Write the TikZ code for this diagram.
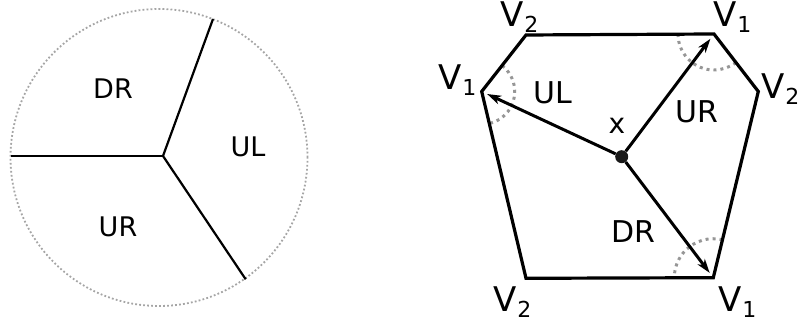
\documentclass[tikz,border=0pt]{standalone}
\usepackage{fontspec}
\setmainfont{DejaVu Sans}
\usetikzlibrary{arrows.meta}

\definecolor{dotgray}{RGB}{150,150,150}
\definecolor{ringgray}{RGB}{165,165,165}
\newcommand{\vsub}[1]{V\kern1pt{\fontsize{22}{22}\selectfont\raisebox{-6pt}{#1}}}

\begin{document}
\begin{tikzpicture}[x=1pt, y=1pt,
	wall/.style={line width=3.2pt, line join=miter},
	cut/.style={line width=2.2pt},
	ring/.style={ringgray, line width=1.8pt, dash pattern=on 1.8pt off 2.2pt},
	arcdot/.style={dotgray, line width=3pt, dash pattern=on 3pt off 4pt},
	ray/.style={line width=3pt, -{Stealth[length=14pt,width=9pt,inset=4pt]}, shorten >=6pt},
	region/.style={font=\fontsize{27}{30}\selectfont, inner sep=0pt},
	bigregion/.style={font=\fontsize{30}{33}\selectfont, inner sep=0pt},
	vlabel/.style={font=\fontsize{34}{38}\selectfont, inner sep=0pt, anchor=base west}]
	\useasboundingbox (0,0) rectangle (798,323);
	% Left: disc cut into three regions
	\draw[ring] (159,165.5) circle[radius=148.5];
	\coordinate (J) at (163,167);
	\coordinate (Ew) at (10.7,167);
	\coordinate (Ene) at (213,304);
	\coordinate (Ese) at (245.7,43.7);
	\draw[cut] (J) -- (Ew);
	\draw[cut] (J) -- (Ene);
	\draw[cut] (J) -- (Ese);
	\node[region] (lDR) at (113,234){DR};
	\node[region] (lUL) at (248,176){UL};
	\node[region] (lUR) at (118,96){UR};
	% Right: hexagon, corners and rays from x
	\coordinate (P2tl) at (526,288);
	\coordinate (P1tr) at (714,289);
	\coordinate (P2r) at (758.3,231.5);
	\coordinate (P1br) at (713.3,45.3);
	\coordinate (P2bl) at (526,44.7);
	\coordinate (P1l) at (481.7,231.5);
	\draw[arcdot] ([shift={(51.6:33)}]P1l) arc[start angle=51.6, end angle=-76.6, radius=33];
	\draw[arcdot] ([shift={(180:36)}]P1tr) arc[start angle=180, end angle=307.5, radius=36];
	\draw[arcdot] ([shift={(76.4:39)}]P1br) arc[start angle=76.4, end angle=180, radius=39];
	\draw[wall] (P2tl) -- (P1tr) -- (P2r) -- (P1br) -- (P2bl) -- (P1l) -- cycle;
	\node[circle, fill=black!90, inner sep=0pt, minimum size=13pt] (X) at (621.7,166.3){};
	\draw[ray] (X) -- (P1tr);
	\draw[ray] (X) -- (P1l);
	\draw[ray] (X) -- (P1br);
	\node[bigregion] (rUL) at (552.7,230){UL};
	\node[bigregion] (rUR) at (696.7,211.3){UR};
	\node[bigregion] (rDR) at (633,91.3){DR};
	\node[region, font=\fontsize{28}{30}\selectfont] (tx) at (617,197){x};
	\node[vlabel] (vtl) at (500,296.3){\vsub{2}};
	\node[vlabel] (vtr) at (713,296.3){\vsub{1}};
	\node[vlabel] (vr) at (761,224.7){\vsub{2}};
	\node[vlabel] (vl) at (438,233){\vsub{1}};
	\node[vlabel] (vbl) at (493,11){\vsub{2}};
	\node[vlabel] (vbr) at (718,11){\vsub{1}};
\end{tikzpicture}
\end{document}
